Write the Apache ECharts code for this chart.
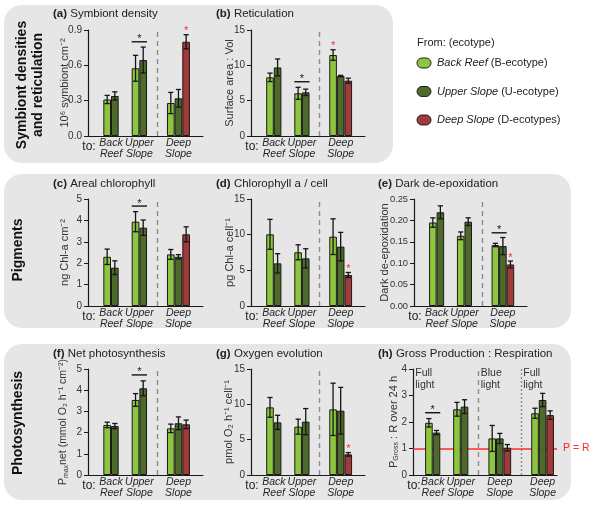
<!DOCTYPE html>
<html><head><meta charset="utf-8">
<script src="https://cdn.jsdelivr.net/npm/echarts@6/dist/echarts.min.js"></script>
<style>html,body{margin:0;padding:0;background:#fff}#c{width:600px;height:510px}</style>
</head><body><div id="c"></div>
<script>
const FONT = "'Liberation Sans', Arial, Helvetica, sans-serif";
const COLORS = {B:'#8cc63f', U:'#4d6a2b', D:'#a2393a'};

// ---- categories
const stdGroups = ['Back\nReef','Upper\nSlope','Deep\nSlope'];
const gprGroups = ['Back\nReef','Upper\nSlope','Deep\nSlope','Deep\nSlope'];
const ecotypeNames = ['Back Reef','Upper Slope','Deep Slope'];
const ecotypeCodes = ['(B-ecotype)','(U-ecotype)','(D-ecotypes)'];

// (a) Symbiont density
const densB=[0.31,0.575,0.28], densU=[0.34,0.645,0.32], densD=[null,null,0.80];
const densErrB=[0.035,0.11,0.09], densErrU=[0.035,0.11,0.075], densErrD=[null,null,0.06];
const densTicks=[0,0.3,0.6,0.9];
// (b) Reticulation
const retiB=[8.3,6.04,11.46], retiU=[9.7,6.18,8.49], retiD=[null,null,7.83];
const retiErrB=[0.6,0.85,0.75], retiErrU=[1.2,0.45,0.1], retiErrD=[null,null,0.35];
const retiTicks=[0,5,10,15];
// (c) Areal chlorophyll
const achlB=[2.30,3.94,2.41], achlU=[1.79,3.66,2.30], achlD=[null,null,3.35];
const achlErrB=[0.36,0.47,0.23], achlErrU=[0.32,0.36,0.1], achlErrD=[null,null,0.35];
const achlTicks=[0,1,2,3,4,5];
// (d) Chlorophyll a / cell
const cchlB=[10.05,7.53,9.72], cchlU=[5.98,6.68,8.32], cchlD=[null,null,4.35];
const cchlErrB=[2.1,1.05,2.5], cchlErrU=[1.35,1.35,2.0], cchlErrD=[null,null,0.35];
const cchlTicks=[0,5,10,15];
// (e) Dark de-epoxidation
const depoB=[0.195,0.164,0.1425], depoU=[0.219,0.197,0.14], depoD=[null,null,0.097];
const depoErrB=[0.011,0.009,0.004], depoErrU=[0.015,0.009,0.02], depoErrD=[null,null,0.008];
const depoTicks=[0,0.05,0.10,0.15,0.20,0.25];
// (f) Net photosynthesis
const pnetB=[2.36,3.54,2.2], pnetU=[2.31,4.09,2.44], pnetD=[null,null,2.39];
const pnetErrB=[0.13,0.3,0.2], pnetErrU=[0.12,0.35,0.3], pnetErrD=[null,null,0.2];
const pnetTicks=[0,1,2,3,4,5];
// (g) Oxygen evolution
const oxyB=[9.57,6.84,9.29], oxyU=[7.45,7.55,9.1], oxyD=[null,null,2.92];
const oxyErrB=[1.4,1.06,3.7], oxyErrU=[1.0,1.85,3.3], oxyErrD=[null,null,0.25];
const oxyTicks=[0,5,10,15];
// (h) Gross production : respiration
const gprB=[1.97,2.48,1.38,2.33], gprU=[1.6,2.58,1.38,2.83], gprD=[null,null,1.03,2.26];
const gprErrB=[0.16,0.26,0.49,0.19], gprErrU=[0.08,0.26,0.19,0.25], gprErrD=[null,null,0.12,0.16];
const gprTicks=[0,1,2,3,4];
const gprLightLabels=['Full\nlight','Blue\nlight','Full\nlight'];
const gprBalance=1; // P = R

// significance: brackets [group, level]; red stars [group, ecotype]
const densBrackets=[[1,0.80]], densStars=[[2,'D']];
const retiBrackets=[[1,7.68]], retiStars=[[2,'B']];
const achlBrackets=[[1,4.67]], achlStars=[];
const cchlBrackets=[], cchlStars=[[2,'D']];
const depoBrackets=[[2,0.171]], depoStars=[[2,'D']];
const pnetBrackets=[[1,4.72]], pnetStars=[];
const oxyBrackets=[], oxyStars=[[2,'D']];
const gprBrackets=[[0,2.35]], gprStars=[];

// ---- layout (positions & styles)
const STD_CENTERS=[3.0,6.7,11.8], STD_MAX=15, STD_SEPS=[{x:9,type:[5,4]}];
const panels=[
 {t:'(a)',title:'Symbiont density',tpos:[53,14],box:[88,30,115,106],ticks:densTicks,dec:1,
  name:'10⁶ symbiont cm⁻²',gap:18,B:densB,U:densU,D:densD,eB:densErrB,eU:densErrU,eD:densErrD,br:densBrackets,st:densStars},
 {t:'(b)',title:'Reticulation',tpos:[216,14],box:[251,30,114,106],ticks:retiTicks,dec:0,
  name:'Surface area : Vol',gap:16,B:retiB,U:retiU,D:retiD,eB:retiErrB,eU:retiErrU,eD:retiErrD,br:retiBrackets,st:retiStars},
 {t:'(c)',title:'Areal chlorophyll',tpos:[53,184],box:[88,199,115,107],ticks:achlTicks,dec:0,
  name:'ng Chl-a cm⁻²',gap:18,B:achlB,U:achlU,D:achlD,eB:achlErrB,eU:achlErrU,eD:achlErrD,br:achlBrackets,st:achlStars},
 {t:'(d)',title:'Chlorophyll a / cell',tpos:[216,184],box:[251,199,114,107],ticks:cchlTicks,dec:0,
  name:'pg Chl-a cell⁻¹',gap:16,B:cchlB,U:cchlU,D:cchlD,eB:cchlErrB,eU:cchlErrU,eD:cchlErrD,br:cchlBrackets,st:cchlStars},
 {t:'(e)',title:'Dark de-epoxidation',tpos:[378,184],box:[414,199,113,107],ticks:depoTicks,dec:2,tfs:9.3,
  name:'Dark de-epoxidation',gap:24,B:depoB,U:depoU,D:depoD,eB:depoErrB,eU:depoErrU,eD:depoErrD,br:depoBrackets,st:depoStars},
 {t:'(f)',title:'Net photosynthesis',tpos:[53,354],box:[88,369,115,106],ticks:pnetTicks,dec:0,nfs:10.5,
  name:'{n|P}{s|max}{n|net (mmol O₂ h⁻¹ cm⁻²)}',gap:18,B:pnetB,U:pnetU,D:pnetD,eB:pnetErrB,eU:pnetErrU,eD:pnetErrD,br:pnetBrackets,st:pnetStars},
 {t:'(g)',title:'Oxygen evolution',tpos:[216,354],box:[251,369,114,106],ticks:oxyTicks,dec:0,
  name:'pmol O₂ h⁻¹ cell⁻¹',gap:17,B:oxyB,U:oxyU,D:oxyD,eB:oxyErrB,eU:oxyErrU,eD:oxyErrD,br:oxyBrackets,st:oxyStars},
 {t:'(h)',title:'Gross Production : Respiration',tpos:[378,354],box:[413,369,144,106],ticks:gprTicks,dec:0,
  name:'{n|P}{s|Gross}{n| : R over 24 h}',gap:13,B:gprB,U:gprU,D:gprD,eB:gprErrB,eU:gprErrU,eD:gprErrD,br:gprBrackets,st:gprStars,
  groups:gprGroups,centers:[2.6,6.3,11.45,17.1],xmax:19,seps:[{x:8.64,type:[5,4]},{x:14.25,type:[2,2]}],pr:gprBalance,lights:gprLightLabels}
];

const grids=[], xAxes=[], yAxes=[], series=[], graphics=[];

function errRender(params, api){
  const x=api.value(0), lo=api.value(1), hi=api.value(2);
  const p1=api.coord([x,lo]), p2=api.coord([x,hi]);
  const cw=2.6, st={stroke:'#151515', lineWidth:1.3};
  return {type:'group', children:[
    {type:'line', shape:{x1:p1[0],y1:p1[1],x2:p2[0],y2:p2[1]}, style:st},
    {type:'line', shape:{x1:p1[0]-cw,y1:p1[1],x2:p1[0]+cw,y2:p1[1]}, style:st},
    {type:'line', shape:{x1:p2[0]-cw,y1:p2[1],x2:p2[0]+cw,y2:p2[1]}, style:st}
  ]};
}

panels.forEach((p,i)=>{
  const groups=p.groups||stdGroups, centers=p.centers||STD_CENTERS, xmax=p.xmax||STD_MAX, seps=p.seps||STD_SEPS;
  const [L,T,W,H]=p.box;
  const bw=W/xmax;
  const nfs=p.nfs||11;
  grids.push({left:L, top:T, width:W, height:H});
  const labelMap={};
  centers.forEach((c,g)=>{labelMap[c.toFixed(2)]=groups[g];});
  xAxes.push({type:'value', gridIndex:i, min:0, max:xmax, splitLine:{show:false},
    axisLine:{lineStyle:{color:'#1a1a1a',width:1.2}}, axisTick:{show:false},
    axisLabel:{customValues:centers, formatter:v=>labelMap[Number(v).toFixed(2)]||'', fontStyle:'italic',
      fontSize:10.5, color:'#262626', lineHeight:11.5, margin:1, fontFamily:FONT}});
  const tk=p.ticks;
  yAxes.push({type:'value', gridIndex:i, min:tk[0], max:tk[tk.length-1], interval:tk[1]-tk[0],
    splitLine:{show:false}, axisLine:{show:true, lineStyle:{color:'#1a1a1a',width:1.2}},
    axisTick:{show:true, length:4, lineStyle:{color:'#1a1a1a'}},
    axisLabel:{formatter:v=>Number(v).toFixed(p.dec), fontSize:p.tfs||10, color:'#333', margin:6, fontFamily:FONT},
    name:p.name, nameLocation:'middle', nameGap:p.gap, nameMoveOverlap:false,
    nameTextStyle:{fontSize:nfs, color:'#333', fontFamily:FONT,
      rich:{n:{fontSize:nfs,color:'#333',fontFamily:FONT,lineHeight:13}, s:{fontSize:7,color:'#333',fontFamily:FONT,verticalAlign:'bottom',lineHeight:9}}}});

  const bars=[], errs=[], brk=[], stars=[];
  const xpos={};
  groups.forEach((g,gi)=>{
    const eco=['B','U'].concat(p.D[gi]!=null?['D']:[]);
    const n=eco.length;
    eco.forEach((e,k)=>{
      const x=centers[gi]+(k-(n-1)/2);
      xpos[gi+e]=x;
      const v=p[e][gi], er=p['e'+e][gi];
      bars.push({value:[x,v], itemStyle:{color:COLORS[e]}});
      errs.push([x, v-er, v+er]);
    });
  });
  p.br.forEach(([gi,lvl])=>brk.push([xpos[gi+'B'], xpos[gi+'U'], lvl]));
  p.st.forEach(([gi,e])=>stars.push([xpos[gi+e], p[e][gi]+p['e'+e][gi]]));

  const ml=seps.map(s=>({xAxis:s.x, lineStyle:{type:s.type,color:'#8c8c8c',width:1.4}, label:{show:false}}));
  if(p.pr!=null) ml.push({yAxis:p.pr, lineStyle:{type:'solid',color:'#ff2b2b',width:1.5},
    label:{show:true,position:'end',formatter:'P = R',color:'#ff2b2b',fontSize:10.5,fontFamily:FONT,distance:6}});

  series.push({type:'bar', xAxisIndex:i, yAxisIndex:i, barWidth:bw, data:bars, z:3,
    itemStyle:{borderColor:'#1a1a1a', borderWidth:1}, animation:false,
    markLine:{silent:true, symbol:['none','none'], z:1, animation:false, data:ml}});
  series.push({type:'custom', xAxisIndex:i, yAxisIndex:i, renderItem:errRender, data:errs, z:4, clip:false,
    encode:{x:0,y:[1,2]}, animation:false, silent:true});
  if(brk.length) series.push({type:'custom', xAxisIndex:i, yAxisIndex:i, z:4, clip:false, animation:false, silent:true,
    encode:{x:[0,1],y:2}, data:brk, renderItem:(pa,api)=>{
      const a=api.coord([api.value(0),api.value(2)]), b=api.coord([api.value(1),api.value(2)]);
      return {type:'group',children:[
        {type:'line',shape:{x1:a[0]-bw/2,y1:a[1],x2:b[0]+bw/2,y2:b[1]},style:{stroke:'#151515',lineWidth:1.4}},
        {type:'text',x:(a[0]+b[0])/2,y:a[1]+3,style:{text:'*',fill:'#151515',font:'11px '+FONT,align:'center',verticalAlign:'bottom',textAlign:'center',textVerticalAlign:'bottom'}}
      ]};
    }});
  if(stars.length) series.push({type:'custom', xAxisIndex:i, yAxisIndex:i, z:4, clip:false, animation:false, silent:true,
    encode:{x:0,y:1}, data:stars, renderItem:(pa,api)=>{
      const a=api.coord([api.value(0),api.value(1)]);
      return {type:'text',x:a[0],y:a[1]+2,style:{text:'*',fill:'#ff2b2b',font:'11px '+FONT,align:'center',verticalAlign:'bottom',textAlign:'center',textVerticalAlign:'bottom'}};
    }});
  if(p.lights){
    const lx=[0.3].concat(seps.map(s=>s.x+0.3));
    series.push({type:'custom', xAxisIndex:i, yAxisIndex:i, z:4, clip:false, animation:false, silent:true,
      encode:{x:0,y:1}, data:lx.map(x=>[x,tk[tk.length-1]]), renderItem:(pa,api)=>{
        const a=api.coord([api.value(0),api.value(1)]);
        return {type:'text',x:a[0],y:a[1]-2,style:{text:p.lights[pa.dataIndex],fill:'#333',font:'10.5px '+FONT,lineHeight:12,align:'left',verticalAlign:'top',textAlign:'left',textVerticalAlign:'top'}};
      }});
  }

  // panel title
  graphics.push({type:'text', x:p.tpos[0], y:p.tpos[1], style:{text:'{b|'+p.t+'} '+p.title, fill:'#222', font:'11.5px '+FONT,
    verticalAlign:'middle', textVerticalAlign:'middle', rich:{b:{fontWeight:'bold',fontSize:11.5,fontFamily:FONT,fill:'#222'}}}});
  // "to:"
  graphics.push({type:'text', x:L+1, y:T+H+11, style:{text:'to:', fill:'#222', font:'12px '+FONT,
    align:'center', textAlign:'center', verticalAlign:'middle', textVerticalAlign:'middle'}});
});

// background panels
[[4,5,389,158],[4,174,567,154],[4,344,567,156]].forEach(r=>{
  graphics.push({type:'rect', z:-100, shape:{x:r[0],y:r[1],width:r[2],height:r[3],r:18}, style:{fill:'#e6e6e6'}});
});
// row labels
[['Symbiont densities\nand reticulation',30,85],['Pigments',18,250],['Photosynthesis',18,423]].forEach(r=>{
  graphics.push({type:'text', x:r[1], y:r[2], rotation:Math.PI/2, style:{text:r[0], fill:'#111',
    font:'bold 14px '+FONT, lineHeight:16, align:'center', textAlign:'center', verticalAlign:'middle', textVerticalAlign:'middle'}});
});
// legend
graphics.push({type:'text', x:417, y:43, style:{text:'From: (ecotype)', fill:'#222', font:'11px '+FONT, verticalAlign:'middle', textVerticalAlign:'middle'}});
['B','U','D'].forEach((e,k)=>{
  const y=63+k*28.5;
  graphics.push({type:'rect', shape:{x:417,y:y-5,width:14,height:10,r:5}, style:{fill:COLORS[e], stroke:'#222', lineWidth:1}});
  graphics.push({type:'text', x:437, y:y, style:{text:'{i|'+ecotypeNames[k]+'} '+ecotypeCodes[k], fill:'#222', font:'11px '+FONT,
    verticalAlign:'middle', textVerticalAlign:'middle', rich:{i:{fontStyle:'italic',fontSize:11,fontFamily:FONT,fill:'#222'}}}});
});

const chart=echarts.init(document.getElementById('c'));
chart.setOption({animation:false, backgroundColor:'#fff', textStyle:{fontFamily:FONT},
  grid:grids, xAxis:xAxes, yAxis:yAxes, series:series, graphic:graphics});
</script></body></html>
